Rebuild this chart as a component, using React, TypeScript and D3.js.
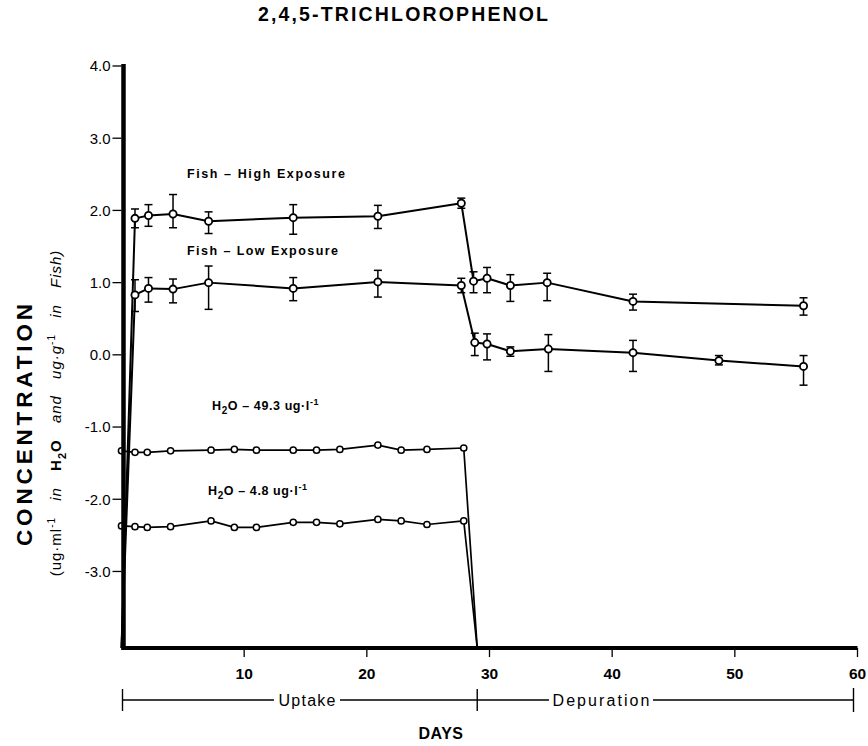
import React from 'react';
import * as d3 from 'd3';

const W = 868;
const H = 746;

const titleText = '2,4,5-TRICHLOROPHENOL';
const yTicks = [4, 3, 2, 1, 0, -1, -2, -3];
const yTickLabels = ['4.0', '3.0', '2.0', '1.0', '0.0', '-1.0', '-2.0', '-3.0'];
const xTicks = [10, 20, 30, 40, 50, 60];

// Fish – High Exposure
const fishHighDays = [1.1, 2.2, 4.2, 7.1, 14.0, 20.9, 27.7, 28.7, 29.8, 31.7, 34.7, 41.7, 55.6];
const fishHighMean = [1.89, 1.93, 1.95, 1.85, 1.90, 1.92, 2.10, 1.02, 1.06, 0.96, 1.00, 0.74, 0.68];
const fishHighUpper = [2.02, 2.08, 2.22, 1.98, 2.08, 2.07, 2.17, 1.15, 1.21, 1.11, 1.13, 0.84, 0.79];
const fishHighLower = [1.76, 1.78, 1.76, 1.68, 1.67, 1.75, 2.03, 0.86, 0.86, 0.74, 0.75, 0.62, 0.55];

// Fish – Low Exposure
const fishLowDays = [1.1, 2.2, 4.2, 7.1, 14.0, 20.9, 27.7, 28.8, 29.8, 31.7, 34.8, 41.7, 48.7, 55.6];
const fishLowMean = [0.83, 0.92, 0.91, 1.00, 0.92, 1.01, 0.96, 0.17, 0.15, 0.05, 0.08, 0.03, -0.08, -0.16];
const fishLowUpper = [1.04, 1.07, 1.05, 1.23, 1.07, 1.17, 1.06, 0.30, 0.29, 0.11, 0.28, 0.20, -0.01, -0.01];
const fishLowLower = [0.60, 0.73, 0.72, 0.63, 0.75, 0.80, 0.86, -0.01, -0.07, -0.02, -0.23, -0.23, -0.14, -0.42];

// Water
const waterDays = [0, 1.1, 2.1, 4.0, 7.3, 9.2, 11.0, 14.0, 15.9, 17.8, 20.9, 22.8, 24.9, 27.9];
const water493 = [-1.33, -1.35, -1.35, -1.33, -1.32, -1.31, -1.32, -1.32, -1.32, -1.31, -1.25, -1.32, -1.31, -1.29];
const water48 = [-2.37, -2.38, -2.39, -2.38, -2.30, -2.39, -2.39, -2.32, -2.32, -2.34, -2.28, -2.30, -2.35, -2.30];
const waterEndDay = 29.0;
const uptakeEndDay = 29.0;

const FONT = "'Liberation Sans', Arial, Helvetica, sans-serif";

export default function App() {
  const yMin = -4.06;
  const x = d3.scaleLinear().domain([0, 60]).range([121.5, 857.5]);
  const y = d3.scaleLinear().domain([yMin, 4]).range([648, 66]);

  const line = d3
    .line<[number, number]>()
    .x((d) => x(d[0]))
    .y((d) => y(d[1]));

  const fishHighPts: [number, number][] = [[0, yMin], ...fishHighDays.map((d, i) => [d, fishHighMean[i]] as [number, number])];
  const fishLowPts: [number, number][] = [[0, yMin], ...fishLowDays.map((d, i) => [d, fishLowMean[i]] as [number, number])];
  const w493Pts: [number, number][] = [...waterDays.map((d, i) => [d, water493[i]] as [number, number]), [waterEndDay, yMin]];
  const w48Pts: [number, number][] = [...waterDays.map((d, i) => [d, water48[i]] as [number, number]), [waterEndDay, yMin]];

  const axisY = y(yMin);
  const x0 = x(0);
  const xEnd = x(60);
  const bracketY = 700;
  const xUp = x(uptakeEndDay);

  const errorBars = (days: number[], up: number[], lo: number[], key: string) =>
    days.map((d, i) => (
      <g key={key + i} stroke="#000" strokeWidth={1.5}>
        <line x1={x(d)} x2={x(d)} y1={y(up[i])} y2={y(lo[i])} />
        <line x1={x(d) - 4} x2={x(d) + 4} y1={y(up[i])} y2={y(up[i])} />
        <line x1={x(d) - 4} x2={x(d) + 4} y1={y(lo[i])} y2={y(lo[i])} />
      </g>
    ));

  const markers = (days: number[], vals: number[], r: number, sw: number, key: string) =>
    days.map((d, i) => (
      <circle key={key + i} cx={x(d)} cy={y(vals[i])} r={r} fill="#fff" stroke="#000" strokeWidth={sw} />
    ));

  return (
    <div style={{ position: 'absolute', left: 0, top: 0 }}>
      <svg width={W} height={H} viewBox={`0 0 ${W} ${H}`} style={{ display: 'block', background: '#fff', fontFamily: FONT }}>
        <rect x={0} y={0} width={W} height={H} fill="#fff" />
        {/* Title */}
        <text x={403} y={21} textAnchor="middle" fontSize={19.5} fontWeight="bold" textLength={290} lengthAdjust="spacing">
          {titleText}
        </text>

        {/* Y axis label */}
        <text transform="translate(32,425) rotate(-90)" textAnchor="middle" fontSize={22.5} fontWeight="bold" textLength={242} lengthAdjust="spacing">
          CONCENTRATION
        </text>
        <text transform="translate(61,413) rotate(-90)" textAnchor="middle" fontSize={15} letterSpacing={1} style={{ wordSpacing: '11px' }}>
          <tspan>(ug·ml</tspan>
          <tspan dy={-6} fontSize={10}>-1</tspan>
          <tspan dy={6} fontStyle="italic"> in </tspan>
          <tspan fontWeight="bold">H</tspan>
          <tspan dy={5} fontSize={11} fontWeight="bold">2</tspan>
          <tspan dy={-5} fontWeight="bold">O</tspan>
          <tspan fontStyle="italic"> and  ug·g</tspan>
          <tspan dy={-6} fontSize={10}>-1</tspan>
          <tspan dy={6} fontStyle="italic"> in Fish)</tspan>
        </text>

        {/* Data lines */}
        <g fill="none" stroke="#000" strokeLinejoin="round">
          <path d={line(fishHighPts) || ''} strokeWidth={2} />
          <path d={line(fishLowPts) || ''} strokeWidth={2} />
          <path d={line(w493Pts) || ''} strokeWidth={1.7} />
          <path d={line(w48Pts) || ''} strokeWidth={1.7} />
        </g>
        {errorBars(fishHighDays, fishHighUpper, fishHighLower, 'eh')}
        {errorBars(fishLowDays, fishLowUpper, fishLowLower, 'el')}
        {markers(fishHighDays, fishHighMean, 3.6, 1.8, 'mh')}
        {markers(fishLowDays, fishLowMean, 3.6, 1.8, 'ml')}
        {markers(waterDays, water493, 3.1, 1.5, 'w1')}
        {markers(waterDays, water48, 3.1, 1.5, 'w2')}

        {/* Series labels */}
        <text x={187} y={178} fontSize={12.5} fontWeight="bold" textLength={158} lengthAdjust="spacing">Fish – High Exposure</text>
        <text x={187} y={255} fontSize={12.5} fontWeight="bold" textLength={151} lengthAdjust="spacing">Fish – Low Exposure</text>
        <text x={212} y={410} fontSize={12.5} fontWeight="bold" letterSpacing={0.6}>
          <tspan>H</tspan>
          <tspan dy={4} fontSize={10}>2</tspan>
          <tspan dy={-4}>O – 49.3 ug·l</tspan>
          <tspan dy={-5} fontSize={9}>-1</tspan>
        </text>
        <text x={208} y={495} fontSize={12.5} fontWeight="bold" letterSpacing={0.6}>
          <tspan>H</tspan>
          <tspan dy={4} fontSize={10}>2</tspan>
          <tspan dy={-4}>O – 4.8 ug·l</tspan>
          <tspan dy={-5} fontSize={9}>-1</tspan>
        </text>

        {/* Y axis */}
        <line x1={x0 + 2} x2={x0 + 2} y1={y(4) - 2} y2={axisY + 2} stroke="#000" strokeWidth={4.5} />
        {yTicks.map((t, i) => (
          <g key={'yt' + i}>
            <line x1={x0 - 9} x2={x0} y1={y(t)} y2={y(t)} stroke="#000" strokeWidth={1.3} />
            <text x={x0 - 11} y={y(t)} dy="0.36em" textAnchor="end" fontSize={15}>
              {yTickLabels[i]}
            </text>
          </g>
        ))}

        {/* X axis */}
        <line x1={x0} x2={xEnd} y1={axisY} y2={axisY} stroke="#000" strokeWidth={4} />
        {xTicks.map((t) => (
          <g key={'xt' + t}>
            <line x1={x(t)} x2={x(t)} y1={axisY} y2={axisY + 9} stroke="#000" strokeWidth={1.3} />
            <text x={x(t)} y={axisY + 31} textAnchor="middle" fontSize={15.5} fontWeight="bold">
              {t}
            </text>
          </g>
        ))}

        {/* Uptake / Depuration bracket */}
        <g stroke="#000" strokeWidth={1.4}>
          <line x1={x0 + 1} x2={x0 + 1} y1={bracketY - 11} y2={bracketY + 11} />
          <line x1={x0 + 1} x2={274} y1={bracketY} y2={bracketY} />
          <line x1={340} x2={xUp} y1={bracketY} y2={bracketY} />
          <line x1={xUp} x2={xUp} y1={bracketY - 11} y2={bracketY + 11} />
          <line x1={xUp} x2={549} y1={bracketY} y2={bracketY} />
          <line x1={653} x2={xEnd - 4} y1={bracketY} y2={bracketY} />
          <line x1={xEnd - 4} x2={xEnd - 4} y1={bracketY - 12} y2={bracketY + 12} />
        </g>
        <text x={307} y={bracketY + 6} textAnchor="middle" fontSize={16} textLength={57} lengthAdjust="spacing">Uptake</text>
        <text x={601} y={bracketY + 6} textAnchor="middle" fontSize={16} textLength={97} lengthAdjust="spacing">Depuration</text>

        <text x={441} y={739} textAnchor="middle" fontSize={16} fontWeight="bold" letterSpacing={0.5}>DAYS</text>
      </svg>
    </div>
  );
}
